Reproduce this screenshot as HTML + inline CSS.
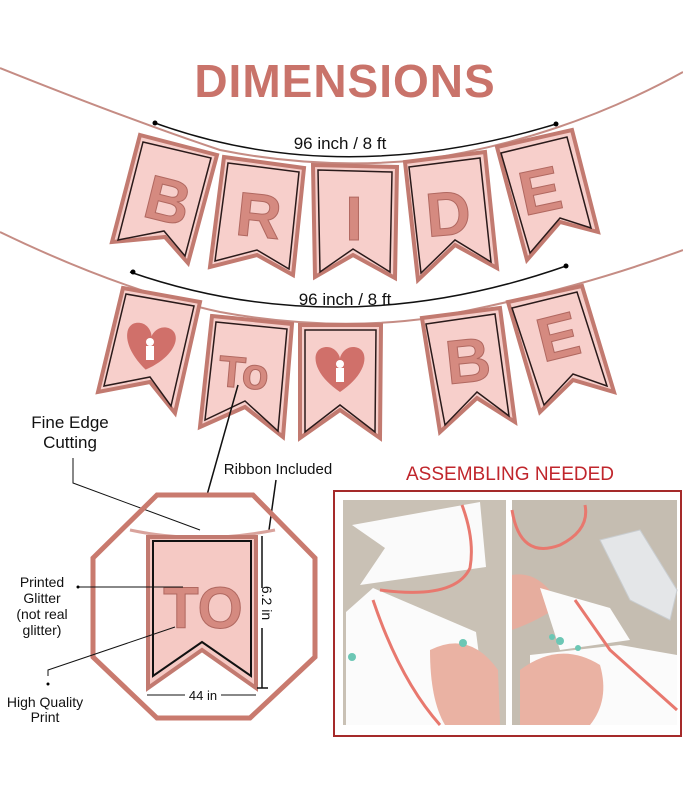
<!DOCTYPE html>
<html><head><meta charset="utf-8"><style>
html,body{margin:0;padding:0;background:#fff}
svg{display:block}
text{font-family:"Liberation Sans",sans-serif}
</style></head><body>
<svg width="683" height="800" viewBox="0 0 683 800" xmlns="http://www.w3.org/2000/svg">
<rect width="683" height="800" fill="#fff"/>
<text x="345" y="97" text-anchor="middle" font-size="46" font-weight="bold" fill="#c9736a" letter-spacing="1">DIMENSIONS</text>

<path d="M0,68 Q130,120 220,150 Q320,170 420,160 Q560,140 683,72" fill="none" stroke="#c58c84" stroke-width="2"/>
<path d="M0,232 Q120,290 220,312 Q330,332 430,318 Q570,292 683,250" fill="none" stroke="#c58c84" stroke-width="2"/>
<path d="M155,123 Q340,190 556,124" fill="none" stroke="#111" stroke-width="1.5"/>
<path d="M130,272 Q340,345 566,266" fill="none" stroke="#111" stroke-width="1.5"/>
<circle cx="155" cy="123" r="2.5"/><circle cx="556" cy="124" r="2.5"/>
<circle cx="133" cy="272" r="2.5"/><circle cx="566" cy="266" r="2.5"/>
<text x="340" y="149" text-anchor="middle" font-size="17" fill="#111">96 inch / 8 ft</text>
<text x="345" y="305" text-anchor="middle" font-size="17" fill="#111">96 inch / 8 ft</text>

<g stroke="#c27a70" stroke-width="4" fill="#f7cfcb" stroke-linejoin="miter">
<polygon points="140,135 217,155 188,263 165,237 112,242"/>
<polygon points="224,157 304,168 293,275 257,255 210,267"/>
<polygon points="313,165 397,167 395,278 353,255 315,277"/>
<polygon points="405,162 485,152 497,268 455,245 418,280"/>
<polygon points="497,147 572,130 598,232 560,222 527,260"/>
<polygon points="123,288 200,302 175,413 150,382 98,392"/>
<polygon points="212,316 292,324 283,437 245,407 200,427"/>
<polygon points="300,325 381,325 380,438 340,410 300,438"/>
<polygon points="422,318 500,308 515,422 477,398 440,432"/>
<polygon points="508,302 582,286 614,392 573,380 540,412"/>
</g>
<g stroke="#2a1a1a" stroke-width="1.5" fill="none">
<polygon points="143,142 211,158 185,256 164,231 118,240"/>
<polygon points="228,163 299,172 289,269 257,250 215,261"/>
<polygon points="318,170 392,172 390,272 353,249 320,272"/>
<polygon points="409,167 480,158 491,262 455,240 421,273"/>
<polygon points="501,153 567,137 591,228 560,218 530,253"/>
<polygon points="126,294 194,306 171,406 150,377 104,386"/>
<polygon points="216,322 287,329 278,431 245,401 205,420"/>
<polygon points="305,330 376,330 375,432 340,405 305,432"/>
<polygon points="426,324 495,314 509,416 477,392 445,425"/>
<polygon points="512,308 577,292 607,386 573,374 544,405"/>
</g>
<g font-family="Liberation Serif,serif" font-weight="bold" fill="#d58a80" stroke="#b06860" stroke-width="1" text-anchor="middle" font-size="62">
<text x="168" y="222" transform="rotate(14 168 200)">B</text>
<text x="259" y="237" transform="rotate(6 259 215)">R</text>
<text x="354" y="240">I</text>
<text x="448" y="235" transform="rotate(-5 448 212)">D</text>
<text x="540" y="212" transform="rotate(-12 540 190)">E</text>
<text x="244" y="388" font-size="44" transform="rotate(5 244 370)">To</text>
<text x="468" y="382" transform="rotate(-6 468 360)">B</text>
<text x="558" y="358" transform="rotate(-14 558 336)">E</text>
</g>
<g fill="#d0706a">
<path d="M150,370 C120,350 120,325 137,325 C145,325 150,333 150,337 C150,333 155,325 163,325 C180,325 180,350 150,370Z" transform="rotate(10 150 345)"/>
<path d="M340,392 C310,372 310,347 327,347 C335,347 340,355 340,359 C340,355 345,347 353,347 C370,347 370,372 340,392Z"/>
</g>
<g fill="#fff"><circle cx="150" cy="342" r="4"/><rect x="146" y="346" width="8" height="14"/><circle cx="340" cy="364" r="4"/><rect x="336" y="368" width="8" height="14"/></g>

<text x="70" y="428" text-anchor="middle" font-size="17" fill="#111">Fine Edge</text>
<text x="70" y="448" text-anchor="middle" font-size="17" fill="#111">Cutting</text>
<path d="M73,458 L73,483 L200,530" fill="none" stroke="#111" stroke-width="1"/>
<path d="M238,385 L207,495" stroke="#111" stroke-width="1.5"/>
<text x="278" y="474" text-anchor="middle" font-size="15" fill="#111">Ribbon Included</text>
<path d="M276,480 L269,530" stroke="#111" stroke-width="1.5"/>

<polygon points="157,495 253,495 315,558 315,657 250,718 157,718 93,657 93,558" fill="none" stroke="#c97a6e" stroke-width="5"/>
<path d="M130,530 Q200,545 275,530" fill="none" stroke="#d9a39c" stroke-width="3"/>
<polygon points="148,537 256,537 256,688 202,650 148,688" fill="#f5c9c4" stroke="#c27a70" stroke-width="4"/>
<polygon points="153,541 251,541 251,676 202,642 153,676" fill="none" stroke="#111" stroke-width="2"/>
<text x="203" y="628" text-anchor="middle" font-family="Liberation Sans,sans-serif" font-weight="bold" font-size="58" fill="#d58a80" stroke="#b06860" stroke-width="1">TO</text>
<path d="M262,536 V688 M257,688 H268" stroke="#111" stroke-width="1.5"/>
<rect x="258" y="588" width="10" height="40" fill="#fff"/>
<text x="257" y="608" font-size="14" fill="#111" transform="rotate(90 262 608)" text-anchor="middle">6.2 in</text>
<path d="M147,695 H185 M221,695 H256" stroke="#111" stroke-width="1"/>
<text x="203" y="700" text-anchor="middle" font-size="13" fill="#111">44 in</text>
<g font-size="14" fill="#111" text-anchor="middle">
<text x="42" y="587">Printed</text><text x="42" y="603">Glitter</text><text x="42" y="619">(not real</text><text x="42" y="635">glitter)</text>
<text x="45" y="707">High Quality</text><text x="45" y="722">Print</text>
</g>
<path d="M78,587 H183 M48,676 V670 L175,627" fill="none" stroke="#111" stroke-width="1"/>
<circle cx="78" cy="587" r="1.5"/><circle cx="48" cy="684" r="1.5"/>

<text x="510" y="480" text-anchor="middle" font-size="19" fill="#c0262c">ASSEMBLING NEEDED</text>
<rect x="334" y="491" width="347" height="245" fill="#fff" stroke="#a52a2a" stroke-width="2"/>
<rect x="343" y="500" width="163" height="225" fill="#c9c1b5"/>
<rect x="512" y="500" width="165" height="225" fill="#c5bdb1"/>
<polygon points="352,525 480,502 486,567 360,585 385,548" fill="#fafafa"/>
<polygon points="346,612 373,588 476,632 488,725 346,725" fill="#fbfbfb"/>
<path d="M462,505 Q475,540 470,568 Q455,600 380,590" fill="none" stroke="#e8786e" stroke-width="3"/>
<path d="M373,600 Q400,680 440,725" fill="none" stroke="#e8786e" stroke-width="3"/>
<path d="M430,650 Q470,630 498,670 L500,725 L445,725 Q430,700 430,650Z" fill="#eab2a3"/>
<path d="M512,575 Q540,570 560,605 Q540,620 512,630Z" fill="#e6ad9e"/>
<polygon points="540,588 610,608 630,640 560,650" fill="#fbfbfb"/>
<polygon points="530,655 620,645 677,655 677,725 530,725" fill="#fbfbfb"/>
<path d="M512,510 Q520,560 560,545 Q590,530 585,505" fill="none" stroke="#e8786e" stroke-width="3"/>
<path d="M575,600 L610,650 L677,710" fill="none" stroke="#e8786e" stroke-width="3"/>
<path d="M520,670 Q560,640 600,665 Q610,700 590,725 L520,725Z" fill="#eab2a3"/>
<polygon points="600,540 640,530 677,590 670,620 630,600" fill="#e4e6e8" stroke="#c9cdd0" stroke-width="1"/>
<circle cx="560" cy="641" r="4" fill="#6cc7b5"/><circle cx="463" cy="643" r="4" fill="#6cc7b5"/><circle cx="352" cy="657" r="4" fill="#6cc7b5"/><circle cx="552" cy="637" r="3" fill="#6cc7b5"/><circle cx="578" cy="648" r="3" fill="#6cc7b5"/>
</svg>
</body></html>
